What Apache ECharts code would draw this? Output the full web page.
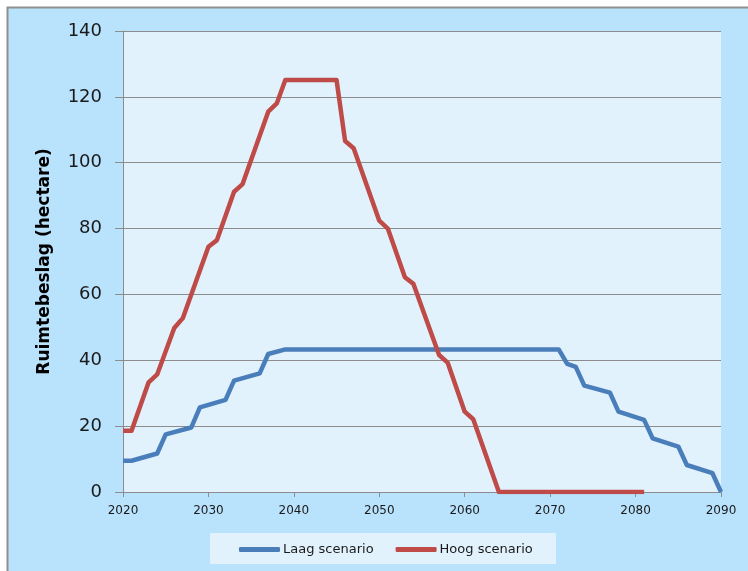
<!DOCTYPE html>
<html>
<head>
<meta charset="utf-8">
<script src="https://cdn.jsdelivr.net/npm/echarts@6/dist/echarts.min.js"></script>
<style>
  html, body { margin: 0; padding: 0; background: #ffffff; overflow: hidden; }
  #chart { width: 748px; height: 571px; }
</style>
</head>
<body>
<div id="chart"></div>
<script>
// data: [jaar, hectare]
var laagJaren = [2020, 2021, 2024, 2025, 2028, 2029, 2032, 2033, 2036, 2037, 2039, 2071, 2072, 2073, 2074, 2077, 2078, 2081, 2082, 2085, 2086, 2089, 2090]
var laagWaarden = [9.5, 9.5, 11.7, 17.5, 19.6, 25.7, 28, 33.8, 36, 41.9, 43.3, 43.3, 38.9, 38, 32.3, 30.2, 24.4, 21.9, 16.3, 13.8, 8.2, 5.7, 0]

var hoogJaren = [2020, 2021, 2023, 2024, 2026, 2027, 2030, 2031, 2033, 2034, 2037, 2038, 2039, 2045, 2046, 2047, 2050, 2051, 2053, 2054, 2057, 2058, 2060, 2061, 2064, 2081]
var hoogWaarden = [18.6, 18.6, 33.3, 35.7, 49.8, 52.8, 74.5, 76.5, 91.2, 93.5, 115.5, 118, 125.1, 125.1, 106.6, 104.4, 82.4, 80, 65.2, 63.2, 41.6, 39.3, 24.4, 22.1, 0, 0]

var reeksNamen = ['Laag scenario', 'Hoog scenario']
var yNaam = 'Ruimtebeslag (hectare)'

function paren(xs, ys) {
    return xs.map((x, i) => [x, ys[i]])
}

var chart = echarts.init(document.getElementById('chart'))

var option = {
    backgroundColor: '#ffffff',
    animation: false,
    textStyle: { fontFamily: 'DejaVu Sans' },
    graphic: [
        {
            // buitenvlak
            type: 'rect',
            shape: { x: 7, y: 7, width: 741, height: 564 },
            style: { fill: '#b9e2fc' },
            z: -10
        },
        {
            // kader boven en links
            type: 'polyline',
            shape: { points: [[7.5, 571], [7.5, 7.5], [748, 7.5]] },
            style: { stroke: '#8f8f8f', lineWidth: 2, fill: null },
            z: -10
        },
        {
            // plotvlak
            type: 'rect',
            shape: { x: 123, y: 31, width: 598, height: 461 },
            style: { fill: '#e1f2fd' },
            z: -9
        },
        {
            // legenda kader
            type: 'rect',
            shape: { x: 210, y: 533, width: 346, height: 31 },
            style: { fill: '#e1f2fd' },
            z: -9
        }
    ],
    grid: { left: 123, top: 31, right: 27, bottom: 79 },
    legend: {
        data: reeksNamen,
        left: 234,
        top: 538,
        itemWidth: 41,
        itemHeight: 5,
        itemGap: 22,
        icon: 'roundRect',
        textStyle: { fontSize: 13, color: '#1a1a1a', fontFamily: 'DejaVu Sans', padding: [0, 0, 0, -2] }
    },
    xAxis: {
        type: 'value',
        min: 2020,
        max: 2090,
        interval: 10,
        axisLine: { lineStyle: { color: '#8c8c8c', width: 1 } },
        axisTick: { show: true, length: 5, lineStyle: { color: '#8c8c8c' } },
        axisLabel: { fontSize: 12, color: '#1a1a1a', margin: 13, formatter: v => String(v) },
        splitLine: { show: false }
    },
    yAxis: {
        type: 'value',
        min: 0,
        max: 140,
        interval: 20,
        name: yNaam,
        nameLocation: 'middle',
        nameGap: 70,
        nameTextStyle: { fontSize: 17, fontWeight: 'bold', color: '#000000', fontFamily: 'DejaVu Sans' },
        axisLine: { show: true, lineStyle: { color: '#8c8c8c', width: 1 } },
        axisTick: { show: true, length: 8, lineStyle: { color: '#8c8c8c' } },
        axisLabel: { fontSize: 18, color: '#1a1a1a', margin: 21 },
        splitLine: { lineStyle: { color: '#8c8c8c', width: 1 } }
    },
    series: [
        {
            name: reeksNamen[0],
            type: 'line',
            data: paren(laagJaren, laagWaarden),
            showSymbol: false,
            symbol: 'none',
            color: '#4a7ebb',
            lineStyle: { color: '#4a7ebb', width: 4.5, join: 'round' },
            z: 3
        },
        {
            name: reeksNamen[1],
            type: 'line',
            data: paren(hoogJaren, hoogWaarden),
            showSymbol: false,
            symbol: 'none',
            color: '#be4b48',
            lineStyle: { color: '#be4b48', width: 4.5, join: 'round' },
            z: 4
        }
    ]
}

chart.setOption(option)
</script>
</body>
</html>
